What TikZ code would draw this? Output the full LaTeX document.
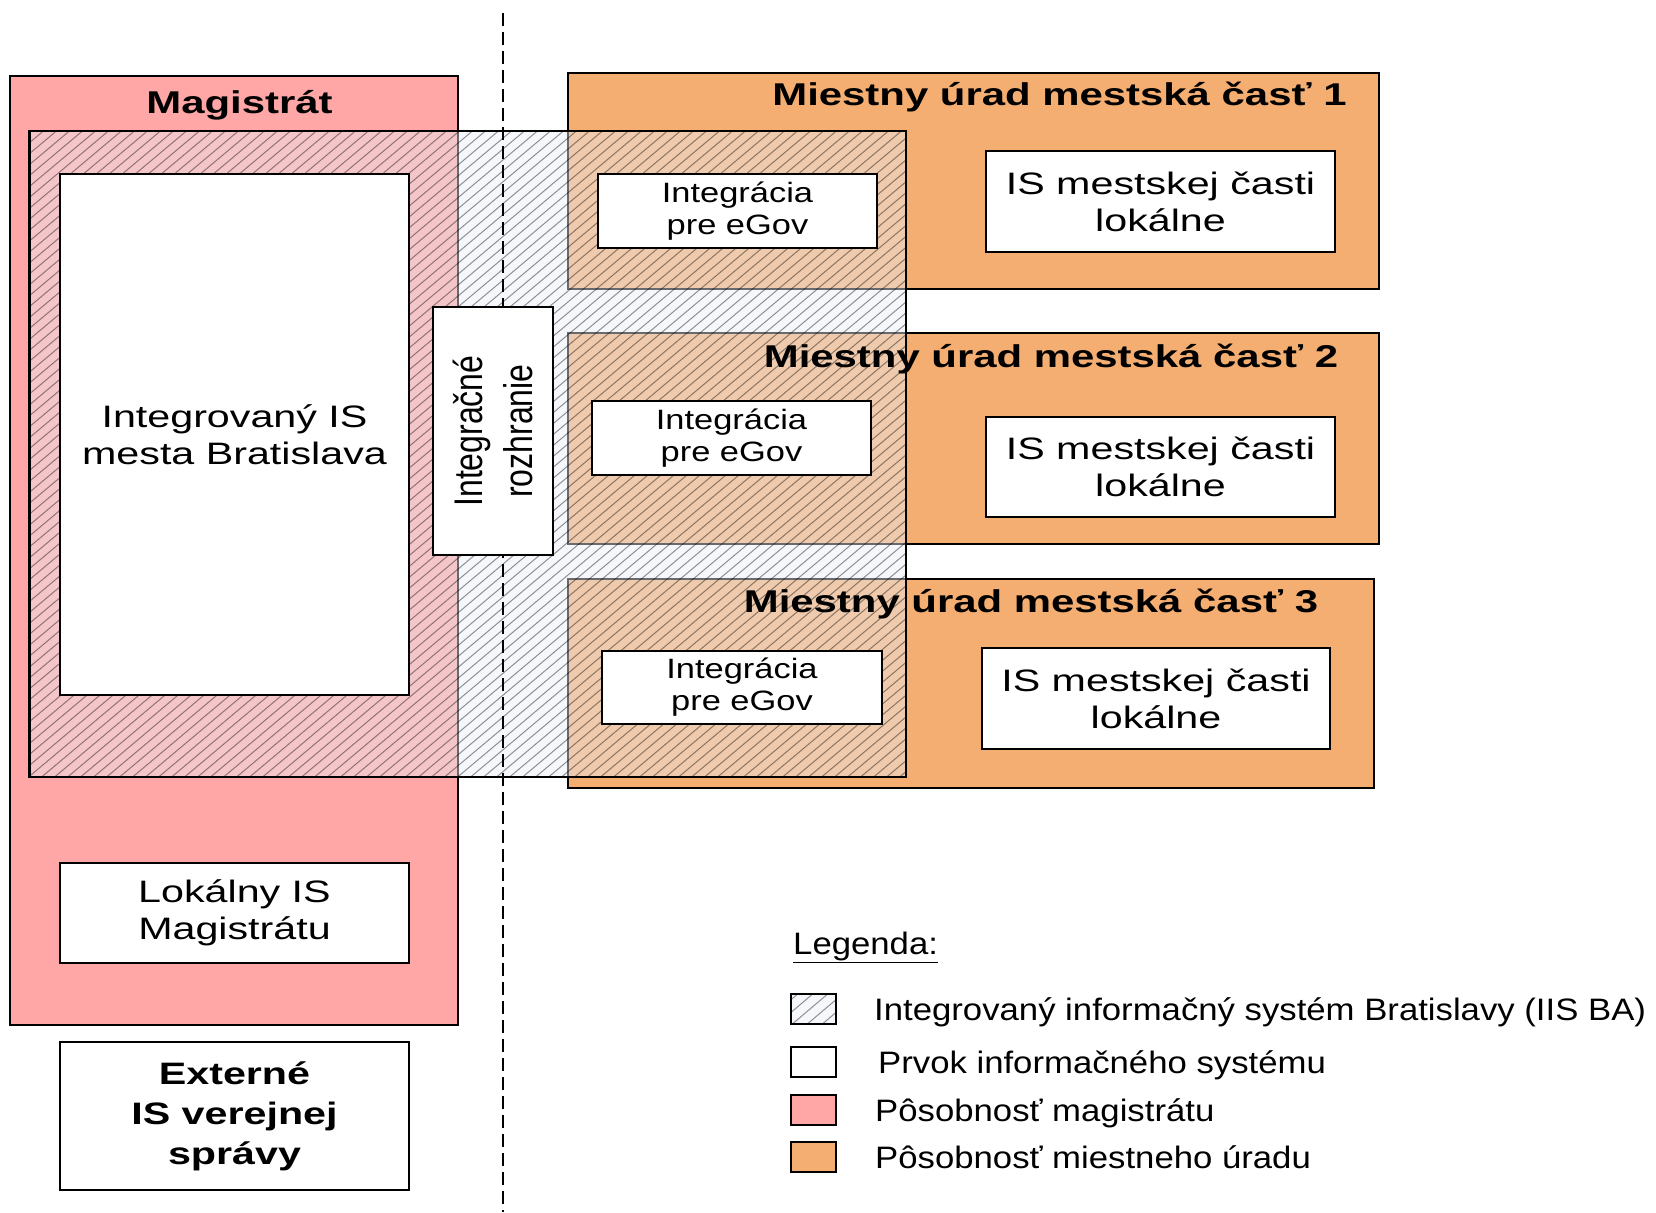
\documentclass[tikz,border=0pt]{standalone}
\usepackage{fontspec}
\setmainfont{Liberation Sans}
\newfontfamily\boxfont{Liberation Sans}[FakeStretch=1.33]
\newfontfamily\titlefont{Liberation Sans}[FakeStretch=1.33]
\newfontfamily\intfont{Liberation Sans}[FakeStretch=1.23]
\newfontfamily\legfont{Liberation Sans}[FakeStretch=1.12]
\newfontfamily\rotfont{Liberation Sans}[FakeStretch=0.8]
\definecolor{magpink}{HTML}{FFA6A6}
\definecolor{mcorange}{HTML}{F5AE72}
\definecolor{iiscol}{RGB}{233,237,244}
\definecolor{iislight}{RGB}{245,247,250}
\tikzset{
  region/.style={draw=black, line width=1.5bp, inner sep=0pt},
  magregion/.style={region, fill=magpink},
  mcregion/.style={region, fill=mcorange},
  wbox/.style={draw=black, line width=2bp, fill=white, inner sep=0pt, align=center,
    font=\boxfont\fontsize{31bp}{37bp}\selectfont},
  intbox/.style={wbox, font=\intfont\fontsize{28bp}{32bp}\selectfont},
  rotbox/.style={wbox, rotate=90, font=\rotfont\fontsize{40bp}{50bp}\selectfont},
  extbox/.style={wbox, font=\titlefont\bfseries\fontsize{31bp}{40bp}\selectfont},
  titletext/.style={anchor=base, inner sep=0pt, font=\titlefont\bfseries\fontsize{31.5bp}{37bp}\selectfont},
  hatchline/.style={black, line width=1bp, opacity=0.42},
  divider/.style={line width=2bp, dash pattern=on 13bp off 6bp},
  legswatch/.style={draw=black, line width=1.5bp, inner sep=0pt, minimum width=45bp, minimum height=30bp},
  legtext/.style={anchor=base west, inner sep=0pt, font=\legfont\fontsize{31bp}{37bp}\selectfont},
}
\begin{document}
\begin{tikzpicture}[x=1bp,y=-1bp]
\useasboundingbox (0,0) rectangle (1656,1212);

% scope regions
\node[magregion, minimum width=448bp, minimum height=949bp] (mag) at (234,550.5) {};
\node[mcregion, minimum width=811bp, minimum height=216bp] (mc1) at (973.5,181) {};
\node[mcregion, minimum width=811bp, minimum height=211bp] (mc2) at (973.5,438.5) {};
\node[mcregion, minimum width=806bp, minimum height=209bp] (mc3) at (971,683.5) {};

% IIS BA overlay
\fill[iiscol, opacity=0.45] (29.6,131) rectangle (906,777);
\begin{scope}
  \clip (29.6,131) rectangle (906,777);
  \draw[hatchline] \foreach \k in {0,...,128} {({-742+13*\k},780) -- ++(776,-652)};
\end{scope}
\node[draw=black, line width=2.5bp, inner sep=0pt, minimum width=876.4bp, minimum height=646bp] (iisba) at (467.8,454) {};

% divider
\coordinate (dtop) at (503,13);
\coordinate (dbot) at (503,1212);
\draw[divider] (dtop) -- (dbot);

% elements
\node[wbox, minimum width=349bp, minimum height=521bp] (iis) at (234.5,434.5) {Integrovaný IS\\mesta Bratislava};
\node[rotbox, minimum width=248bp, minimum height=120bp] (rozh) at (493,431) {Integračné\\rozhranie};
\node[intbox, minimum width=279bp, minimum height=74bp] (int1) at (737.5,211) {Integrácia\\pre eGov};
\node[intbox, minimum width=279bp, minimum height=74bp] (int2) at (731.5,438) {Integrácia\\pre eGov};
\node[intbox, minimum width=280bp, minimum height=73bp] (int3) at (742,687.5) {Integrácia\\pre eGov};
\node[wbox, minimum width=349bp, minimum height=101bp] (is1) at (1160.5,201.5) {IS mestskej časti\\lokálne};
\node[wbox, minimum width=349bp, minimum height=100bp] (is2) at (1160.5,467) {IS mestskej časti\\lokálne};
\node[wbox, minimum width=348bp, minimum height=101bp] (is3) at (1156,698.5) {IS mestskej časti\\lokálne};
\node[wbox, minimum width=349bp, minimum height=100bp] (lok) at (234.5,913) {Lokálny IS\\Magistrátu};
\node[extbox, minimum width=349bp, minimum height=148bp] (ext) at (234.5,1116) {Externé\\IS verejnej\\správy};

% titles
\node[titletext] (tmag) at (239.5,113) {Magistrát};
\node[titletext] (tmc1) at (1059.5,105) {Miestny úrad mestská časť 1};
\node[titletext] (tmc2) at (1051,367) {Miestny úrad mestská časť 2};
\node[titletext] (tmc3) at (1031,612) {Miestny úrad mestská časť 3};

% legend
\node[legtext] (leghead) at (793,954) {\underline{Legenda:}};
\node[legswatch, fill=iislight] (sw1) at (813.5,1009) {};
\begin{scope}
  \clip (791,994) rectangle (836,1024);
  \draw[hatchline] \foreach \k in {0,...,5} {({760+15*\k},1026) -- ++(40,-34)};
\end{scope}
\node[legswatch] (sw1b) at (813.5,1009) {};
\node[legswatch, fill=white] (sw2) at (813.5,1062) {};
\node[legswatch, fill=magpink] (sw3) at (813.5,1110) {};
\node[legswatch, fill=mcorange] (sw4) at (813.5,1157) {};
\node[legtext] (lt1) at (874,1020) {Integrovaný informačný systém Bratislavy (IIS BA)};
\node[legtext] (lt2) at (878,1073) {Prvok informačného systému};
\node[legtext] (lt3) at (875,1121) {Pôsobnosť magistrátu};
\node[legtext] (lt4) at (875,1168) {Pôsobnosť miestneho úradu};
\end{tikzpicture}
\end{document}
